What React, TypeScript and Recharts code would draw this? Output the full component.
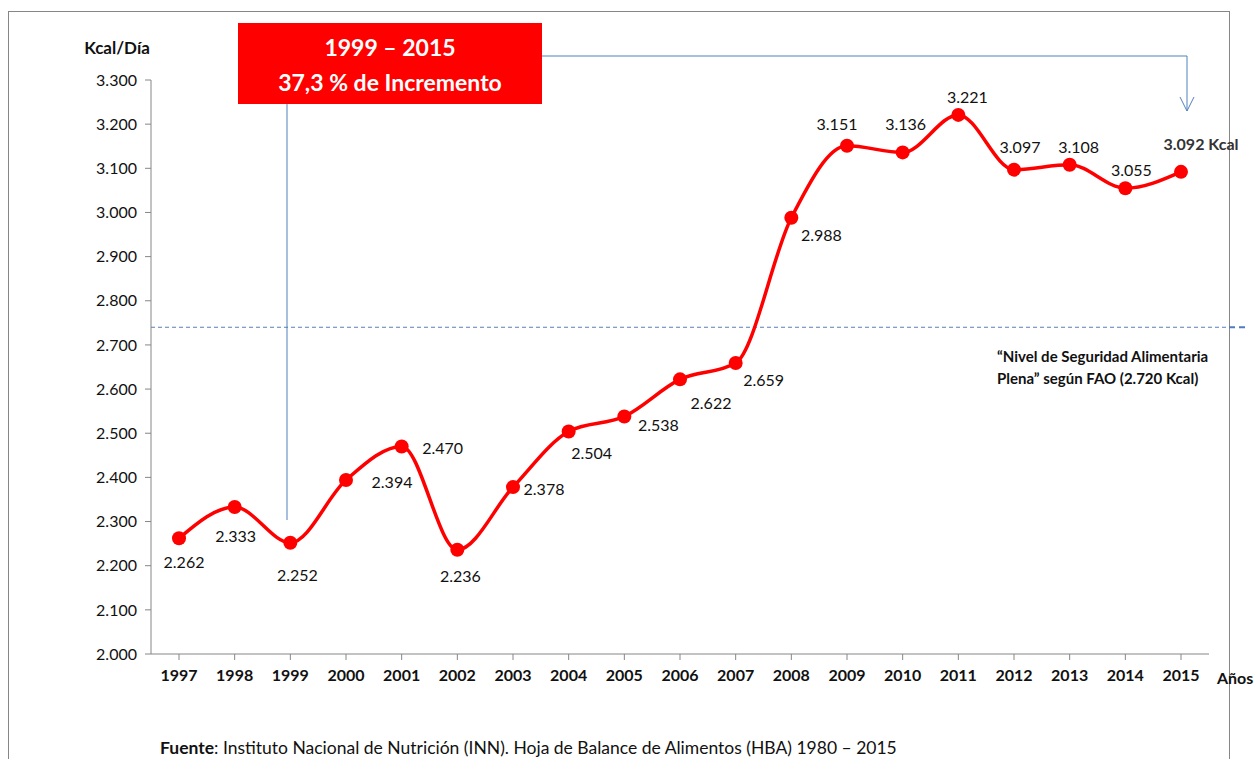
import React from "react";
import {
  Line,
  LineChart,
  ReferenceLine,
  XAxis,
  YAxis
} from "recharts";

const years = [
  "1997", "1998", "1999", "2000", "2001", "2002", "2003", "2004", "2005", "2006",
  "2007", "2008", "2009", "2010", "2011", "2012", "2013", "2014", "2015"
];
const kcal = [
  2262, 2333, 2252, 2394, 2470, 2236, 2378, 2504, 2538, 2622,
  2659, 2988, 3151, 3136, 3221, 3097, 3108, 3055, 3092
];
const yTicks = [2000, 2100, 2200, 2300, 2400, 2500, 2600, 2700, 2800, 2900, 3000, 3100, 3200, 3300];
// the dashed FAO line sits a bit above 2.720 in the original drawing
const faoLineAt = 2740;

// where each value label sits relative to its point (layout only)
const labelOffsets: [number, number][] = [
  [5, 23], [1, 29], [7, 32], [46, 1], [41, 1], [3, 26], [31, 1], [23, 21], [34, 8], [31, 23],
  [28, 16], [30, 17], [-10, -22], [3, -29], [9, -18], [6, -23], [9, -18], [6, -19], [20, -28]
];

const data = years.map((year, i) => ({ year, kcal: kcal[i] }));

const FONT = "Lato, 'Open Sans', sans-serif";
const AXIS_GREY = "#868686";

const fmt = (v: number) => `${Math.floor(v / 1000)}.${String(v % 1000).padStart(3, "0")}`;

function ValueLabel(props: any) {
  const { x, y, value, index } = props;
  const [dx, dy] = labelOffsets[index] ?? [0, -15];
  const last = index === kcal.length - 1;
  return (
    <text
      x={x + dx}
      y={y + dy}
      textAnchor="middle"
      dominantBaseline="central"
      fontFamily={FONT}
      fontSize={16}
      fontWeight={last ? 700 : 400}
      fill={last ? "#333" : "#111"}
    >
      {last ? `${fmt(value)} Kcal` : fmt(value)}
    </text>
  );
}

function FaoLine(props: any) {
  const { x1, y1 } = props;
  return (
    <g>
      <line x1={x1} y1={y1} x2={1229} y2={y1} stroke="#5B7DB5" strokeWidth={1} strokeDasharray="4 3" />
      <line x1={1229} y1={y1} x2={1245} y2={y1} stroke="#4F7CC0" strokeWidth={2} strokeDasharray="6 4" />
    </g>
  );
}

export default function App() {
  return (
    <div style={{ position: "absolute", left: 0, top: 0, width: 1256, height: 759, background: "#fff", overflow: "hidden" }}>
      <svg width={1256} height={759} style={{ position: "absolute", left: 0, top: 0 }}>
        <rect x={8.5} y={11.5} width={1221} height={800} fill="none" stroke={AXIS_GREY} strokeWidth={1} />
      </svg>
      <div style={{ position: "absolute", left: 0, top: 0 }}>
        <LineChart
          width={1256}
          height={759}
          data={data}
          margin={{ top: 80, right: 47, bottom: 65, left: 91 }}
        >
          <XAxis
            dataKey="year"
            height={40}
            padding={{ left: 28, right: 28 }}
            axisLine={{ stroke: AXIS_GREY }}
            tickLine={{ stroke: AXIS_GREY }}
            tickSize={6}
            tickMargin={10}
            interval={0}
            tick={{ fontFamily: FONT, fontSize: 16, fontWeight: 700, fill: "#111" }}
          />
          <YAxis
            width={60}
            domain={[2000, 3300]}
            ticks={yTicks}
            allowDataOverflow
            axisLine={{ stroke: AXIS_GREY }}
            tickLine={{ stroke: AXIS_GREY }}
            tickSize={6}
            tickMargin={8}
            tickFormatter={fmt}
            tick={{ fontFamily: FONT, fontSize: 16, fill: "#111" }}
          />
          <ReferenceLine y={faoLineAt} ifOverflow="visible" shape={<FaoLine />} />
          <Line
            type="monotone"
            dataKey="kcal"
            stroke="#FF0000"
            strokeWidth={3.5}
            dot={{ r: 7, fill: "#FF0000", stroke: "#FF0000", strokeWidth: 0 }}
            activeDot={false}
            label={<ValueLabel />}
            isAnimationActive={false}
          />
        </LineChart>
      </div>
      <svg width={1256} height={759} style={{ position: "absolute", left: 0, top: 0, pointerEvents: "none" }}>
        <text x={117} y={47} textAnchor="middle" dominantBaseline="central" fontFamily={FONT} fontSize={17} fontWeight={700} fill="#111">
          Kcal/Día
        </text>
        <polyline points="542,56 1187,56 1187,111" fill="none" stroke="#4F81BD" strokeWidth={1} />
        <polyline points="1180,97 1187,111 1194,97" fill="none" stroke="#4F81BD" strokeWidth={1} />
        <line x1={287} y1={104} x2={287} y2={520} stroke="#4F81BD" strokeWidth={1} />
        <rect x={238} y={23} width={304} height={81} fill="#FF0000" />
        <text x={390} y={47} textAnchor="middle" dominantBaseline="central" fontFamily={FONT} fontSize={23} fontWeight={700} fill="#fff">
          1999 – 2015
        </text>
        <text x={390} y={82} textAnchor="middle" dominantBaseline="central" fontFamily={FONT} fontSize={23} fontWeight={700} fill="#fff">
          37,3 % de Incremento
        </text>
        <text x={997} y={356} dominantBaseline="central" fontFamily={FONT} fontSize={15} fontWeight={700} fill="#111">
          “Nivel de Seguridad Alimentaria
        </text>
        <text x={997} y={378} dominantBaseline="central" fontFamily={FONT} fontSize={15} fontWeight={700} fill="#111">
          Plena” según FAO (2.720 Kcal)
        </text>
        <text x={1217} y={677} dominantBaseline="central" fontFamily={FONT} fontSize={16} fontWeight={700} fill="#111">
          Años
        </text>
        <text x={160} y={747} dominantBaseline="central" fontFamily={FONT} fontSize={17.5} fill="#111">
          <tspan fontWeight={700}>Fuente</tspan>
          <tspan>: Instituto Nacional de Nutrición (INN). Hoja de Balance de Alimentos (HBA) 1980 – 2015</tspan>
        </text>
      </svg>
    </div>
  );
}
